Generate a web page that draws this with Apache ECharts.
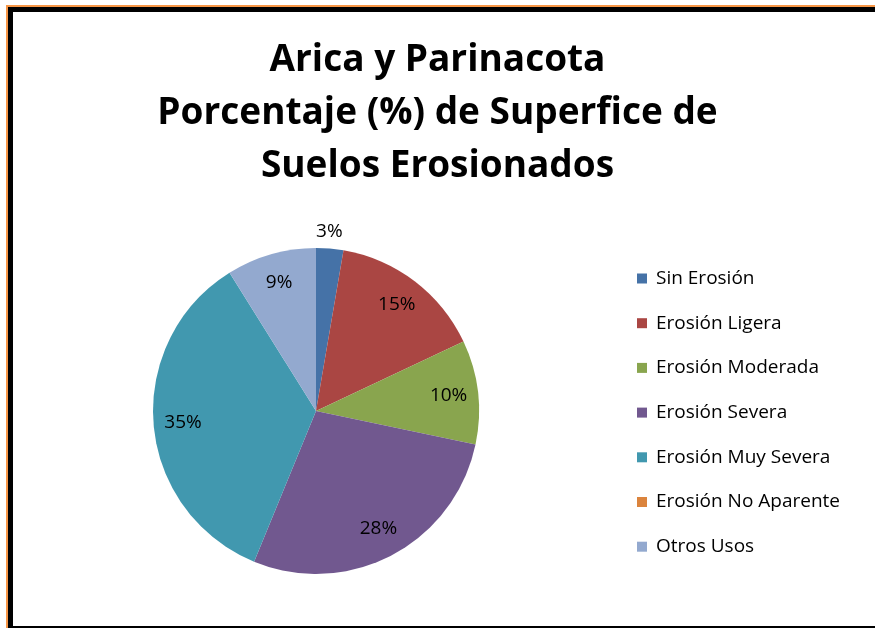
<!DOCTYPE html>
<html>
<head>
<meta charset="utf-8">
<script src="https://cdn.jsdelivr.net/npm/echarts@6/dist/echarts.min.js"></script>
<style>
  html, body { margin: 0; padding: 0; background: #fff; overflow: hidden; }
  #frame { position: absolute; left: 6px; top: 5px; width: 880px; height: 640px;
    border-left: 2px solid #F79646; border-top: 2px solid #F79646; }
  #inner { position: absolute; left: 0; top: 0; width: 880px; height: 614px;
    border-left: 5px solid #000; border-top: 5px solid #000; border-bottom: 3px solid #000; }
  #chart { position: absolute; left: 0; top: 0; width: 875px; height: 628px; }
</style>
</head>
<body>
<div id="frame"><div id="inner"></div></div>
<div id="chart"></div>
<script>
// datos
var titleLines = ['Arica y Parinacota', 'Porcentaje (%) de Superfice de', 'Suelos Erosionados'];
var categories = ['Sin Erosión', 'Erosión Ligera', 'Erosión Moderada', 'Erosión Severa',
  'Erosión Muy Severa', 'Erosión No Aparente', 'Otros Usos'];
var values = [2.7, 15.3, 10.3, 27.9, 34.9, 0, 8.9];
var colors = ['#4572A7', '#AA4643', '#89A54E', '#71588F', '#4198AF', '#DB843D', '#93A9CF'];

var font = 'Open Sans';

var pieData = categories.map(function (name, i) {
  return { name: name, value: values[i], itemStyle: { color: colors[i] } };
});

// anillo transparente solo para las etiquetas (a ~0.8 del radio)
var labelData = categories.map(function (name, i) {
  var item = { name: name, value: values[i], itemStyle: { color: 'rgba(0,0,0,0)' } };
  if (i === 0) {
    item.label = { offset: [2, -46] };
  }
  return item;
});

var total = values.reduce(function (a, b) { return a + b; }, 0);

var chart = echarts.init(document.getElementById('chart'), null, { renderer: 'canvas' });
chart.setOption({
  animation: false,
  backgroundColor: 'transparent',
  title: {
    text: titleLines.join('\n'),
    left: 'center',
    top: 29,
    textStyle: { fontFamily: font, fontWeight: 'bold', fontSize: 37, lineHeight: 53, color: '#000' }
  },
  legend: {
    orient: 'vertical',
    left: 632,
    top: 264,
    icon: 'rect',
    itemWidth: 10,
    itemHeight: 10,
    itemGap: 25.7,
    data: categories,
    textStyle: { fontFamily: font, fontSize: 19, lineHeight: 17, color: '#000', padding: [0, 0, 0, 4] }
  },
  series: [
    {
      type: 'pie',
      center: [316, 411],
      radius: [0, 163],
      startAngle: 90,
      clockwise: true,
      silent: true,
      label: { show: false },
      labelLine: { show: false },
      itemStyle: { borderWidth: 0 },
      data: pieData
    },
    {
      type: 'pie',
      center: [316, 411],
      radius: [98, 163],
      startAngle: 90,
      clockwise: true,
      silent: true,
      legendHoverLink: false,
      label: {
        show: true,
        position: 'inside',
        fontFamily: font,
        fontSize: 19,
        color: '#000',
        formatter: function (p) {
          if (!p.value) return '';
          return Math.round(p.value / total * 100) + '%';
        }
      },
      labelLine: { show: false },
      data: labelData
    }
  ]
});
</script>
</body>
</html>
